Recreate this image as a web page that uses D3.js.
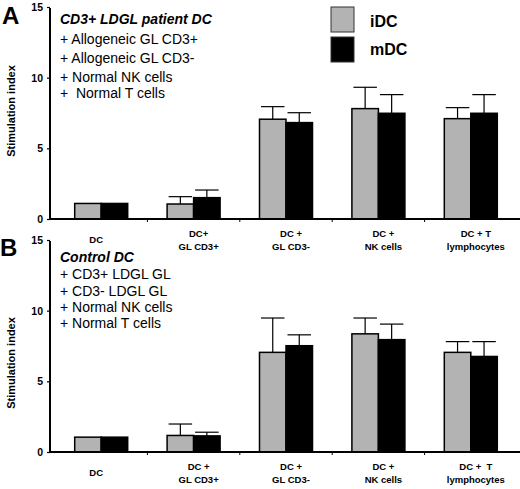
<!DOCTYPE html>
<html>
<head>
<meta charset="utf-8">
<script src="https://cdn.jsdelivr.net/npm/d3@7"></script>
<style>
  body { margin: 0; background: #fff; }
  svg { display: block; font-family: "Liberation Sans", Arial, sans-serif; }
  text { white-space: pre; }
</style>
</head>
<body>
<svg width="520" height="489"></svg>
<script>
// categories (two-line tick labels)
var categories = [["DC"], ["DC+", "GL CD3+"], ["DC +", "GL CD3-"], ["DC +", "NK cells"], ["DC + T", "lymphocytes"]];
var categoriesB = [["DC"], ["DC +", "GL CD3+"], ["DC +", "GL CD3-"], ["DC +", "NK cells"], ["DC +  T", "lymphocytes"]];
var series = ["iDC", "mDC"];
var yTicks = [0, 5, 10, 15];

// panel A: CD3+ LDGL patient DC
var aIDC = [1.1, 1.06, 7.06, 7.81, 7.1];
var aIDCerr = [0, 0.52, 0.89, 1.51, 0.78];
var aMDC = [1.1, 1.51, 6.82, 7.48, 7.48];
var aMDCerr = [0, 0.54, 0.7, 1.32, 1.32];

// panel B: control DC
var bIDC = [1.05, 1.17, 7.05, 8.36, 7.05];
var bIDCerr = [0, 0.81, 2.43, 1.12, 0.76];
var bMDC = [1.05, 1.14, 7.52, 7.95, 6.76];
var bMDCerr = [0, 0.26, 0.77, 1.1, 1.05];

var textA = ["CD3+ LDGL patient DC", "+ Allogeneic GL CD3+", "+ Allogeneic GL CD3-", "+ Normal NK cells", "+  Normal T cells"];
var textB = ["Control DC", "+ CD3+ LDGL GL", "+ CD3- LDGL GL", "+ Normal NK cells", "+ Normal T cells"];

var colors = {iDC: "#b3b3b3", mDC: "#000"};

var svg = d3.select("svg");

var x = d3.scaleBand()
    .domain(d3.range(categories.length))
    .range([55, 517]);

var xs = d3.scaleBand()
    .domain(series)
    .range([x.bandwidth() / 2 - 26.5, x.bandwidth() / 2 + 26.5]);

function panel(opts) {
    var y = d3.scaleLinear().domain([0, 15]).range([opts.y0, opts.y0 - 212]);
    var g = svg.append("g");

    var rows = [];
    d3.range(categories.length).forEach(function(i) {
        rows.push({i: i, s: "iDC", v: opts.idc[i], e: opts.idcErr[i]});
        rows.push({i: i, s: "mDC", v: opts.mdc[i], e: opts.mdcErr[i]});
    });

    // error bars (upper only)
    var err = g.selectAll(".err").data(rows.filter(function(d) { return d.e > 0; }))
        .enter().append("g").attr("class", "err")
        .attr("stroke", "#000").attr("stroke-width", 1.2);
    err.append("line")
        .attr("x1", function(d) { return x(d.i) + xs(d.s) + xs.bandwidth() / 2; })
        .attr("x2", function(d) { return x(d.i) + xs(d.s) + xs.bandwidth() / 2; })
        .attr("y1", function(d) { return y(d.v); })
        .attr("y2", function(d) { return y(d.v + d.e); });
    err.append("line")
        .attr("x1", function(d) { return x(d.i) + xs(d.s) + 1.5; })
        .attr("x2", function(d) { return x(d.i) + xs(d.s) + xs.bandwidth() - 1.5; })
        .attr("y1", function(d) { return y(d.v + d.e); })
        .attr("y2", function(d) { return y(d.v + d.e); });

    // bars
    g.selectAll("rect.bar").data(rows)
        .enter().append("rect").attr("class", "bar")
        .attr("x", function(d) { return x(d.i) + xs(d.s); })
        .attr("width", xs.bandwidth())
        .attr("y", function(d) { return y(d.v); })
        .attr("height", function(d) { return y(0) - y(d.v); })
        .attr("fill", function(d) { return colors[d.s]; })
        .attr("stroke", "#000")
        .attr("stroke-width", 1.5);

    // y axis
    var yAxis = g.append("g")
        .attr("transform", "translate(50,0)")
        .call(d3.axisLeft(y).tickValues(yTicks).tickSize(3).tickPadding(4));
    yAxis.select(".domain").attr("stroke-width", 2).attr("d", "M0," + y(0) + "V" + (y(15) + 1));
    yAxis.selectAll(".tick line").attr("stroke-width", 1.2);
    yAxis.selectAll(".tick text").attr("font-size", 10.5).attr("font-weight", "bold")
        .attr("font-family", "Liberation Sans, Arial, sans-serif").attr("fill", "#000");

    // x axis line and category boundary ticks
    g.append("line").attr("x1", 49).attr("x2", 520)
        .attr("y1", y(0)).attr("y2", y(0))
        .attr("stroke", "#000").attr("stroke-width", 2);
    g.selectAll(".xtick").data(d3.range(1, categories.length))
        .enter().append("line").attr("class", "xtick")
        .attr("x1", function(d) { return x(d); })
        .attr("x2", function(d) { return x(d); })
        .attr("y1", y(0)).attr("y2", y(0) + 3)
        .attr("stroke", "#000").attr("stroke-width", 1);

    // category labels
    var lab = g.selectAll(".cat").data(opts.cats)
        .enter().append("text").attr("class", "cat")
        .attr("text-anchor", "middle")
        .attr("font-size", 9.5).attr("font-weight", "bold")
        .attr("transform", function(d, i) {
            return "translate(" + (x(i) + x.bandwidth() / 2 + (i === 0 ? -5 : 5)) + "," + (y(0) + (d.length === 1 ? 24 : 18)) + ")";
        });
    lab.selectAll("tspan").data(function(d) { return d; })
        .enter().append("tspan")
        .attr("x", 0).attr("dy", function(d, j) { return j === 0 ? 0 : 13; })
        .text(function(d) { return d; });

    // y title
    svg.append("text")
        .attr("transform", "translate(15," + opts.titleY + ") rotate(-90)")
        .attr("text-anchor", "middle")
        .attr("font-size", 11).attr("font-weight", "bold")
        .text("Stimulation index");

    // panel letter
    svg.append("text")
        .attr("x", opts.letterX).attr("y", opts.letterY)
        .attr("font-size", 24).attr("font-weight", "bold")
        .text(opts.letter);

    // annotation block
    svg.selectAll(".note" + opts.letter).data(opts.text)
        .enter().append("text").attr("class", "note" + opts.letter)
        .attr("x", 60)
        .attr("y", function(d, i) { return opts.textY[i]; })
        .attr("font-size", 14)
        .attr("font-weight", function(d, i) { return i === 0 ? "bold" : "normal"; })
        .attr("font-style", function(d, i) { return i === 0 ? "italic" : "normal"; })
        .text(function(d) { return d; });
}

panel({letter: "A", letterX: 2, letterY: 24, y0: 219, titleY: 111, cats: categories,
    idc: aIDC, idcErr: aIDCerr, mdc: aMDC, mdcErr: aMDCerr,
    text: textA, textY: [24, 44, 63, 82, 98]});
panel({letter: "B", letterX: 0, letterY: 256, y0: 452, titleY: 363, cats: categoriesB,
    idc: bIDC, idcErr: bIDCerr, mdc: bMDC, mdcErr: bMDCerr,
    text: textB, textY: [262, 279, 296, 312, 328]});

// legend
var legend = svg.append("g");
legend.selectAll("rect").data(series).enter().append("rect")
    .attr("x", 331).attr("y", function(d, i) { return 7 + i * 30; })
    .attr("width", 23).attr("height", 25)
    .attr("fill", function(d) { return colors[d]; })
    .attr("stroke", "#333").attr("stroke-width", 1);
legend.selectAll("text").data(series).enter().append("text")
    .attr("x", 370).attr("y", function(d, i) { return 27 + i * 28; })
    .attr("font-size", 16).attr("font-weight", "bold")
    .text(function(d) { return d; });
</script>
</body>
</html>
